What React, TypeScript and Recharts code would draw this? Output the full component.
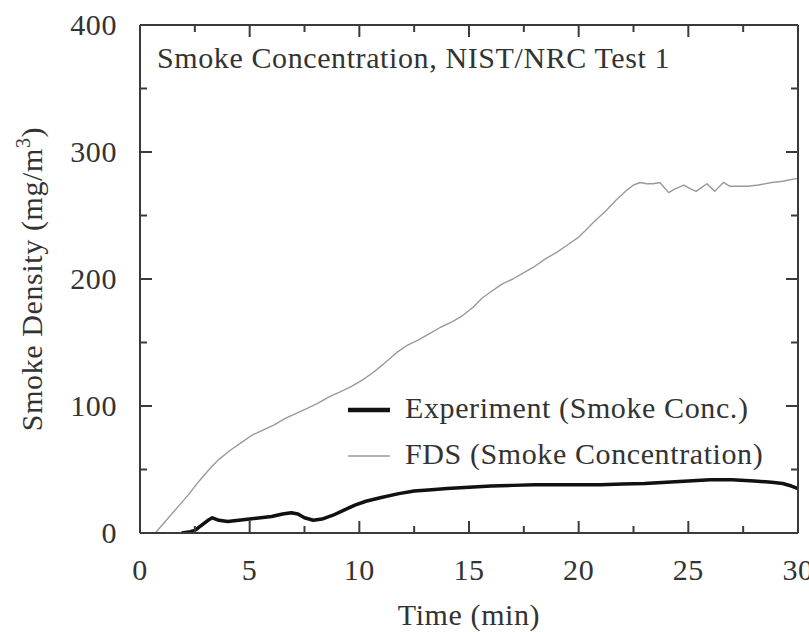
import React from 'react';
import { LineChart, Line, XAxis, YAxis, Legend, Customized } from 'recharts';

// ---- data ----
const fdsTime = [0, 0.7, 1.2, 1.7, 2.2, 2.7, 3.2, 3.6, 4.1, 4.6, 5.1, 5.6, 6.1, 6.6, 7.1, 7.6, 8.1, 8.6, 9.1, 9.6, 10.1, 10.6, 11.1, 11.7, 12.2, 12.7, 13.2, 13.7, 14.2, 14.7, 15.2, 15.6, 16, 16.5, 17, 17.5, 18, 18.5, 19, 19.5, 20, 20.3, 20.7, 21.2, 21.7, 22.2, 22.5, 22.8, 23.1, 23.4, 23.7, 23.9, 24.1, 24.4, 24.8, 25.1, 25.35, 25.6, 25.85, 26.2, 26.6, 26.9, 27.2, 27.7, 28.2, 28.8, 29.3, 29.9, 30];
const fdsValue = [0, 0, 10, 20, 30, 41, 51, 58, 65, 71, 77, 81, 85, 90, 94, 98, 102, 107, 111, 115, 120, 126, 133, 142, 148, 152, 157, 162, 166, 171, 178, 185, 190, 196, 200, 205, 210, 216, 221, 227, 233, 238, 245, 253, 262, 270, 274, 276, 275, 275, 276, 272, 268, 271, 274, 271, 269, 272, 275, 269, 276, 273, 273, 273, 274, 276, 277, 279, 279];

const expTime = [1.9, 2.3, 2.5, 2.8, 3.1, 3.3, 3.6, 4.0, 4.5, 5, 5.5, 6, 6.5, 6.9, 7.2, 7.5, 7.9, 8.3, 8.8, 9.3, 9.8, 10.3, 11, 11.8, 12.5, 13.3, 14, 15, 16, 17, 18, 19, 20, 21, 22, 23, 24, 25, 26, 27, 28, 28.8, 29.3, 29.7, 30];
const expValue = [0, 1, 2, 6, 10, 12, 10, 9, 10, 11, 12, 13, 15, 16, 15, 12, 10, 11, 14, 18, 22, 25, 28, 31, 33, 34, 35, 36, 37, 37.5, 38, 38, 38, 38, 38.5, 39, 40, 41, 42, 42, 41, 40, 39, 37, 35];

const xTicks = [0, 2.5, 5, 7.5, 10, 12.5, 15, 17.5, 20, 22.5, 25, 27.5, 30];
const yTicks = [0, 50, 100, 150, 200, 250, 300, 350, 400];
const xLabelEvery = 5;
const yLabelEvery = 100;

const titleText = 'Smoke Concentration, NIST/NRC Test 1';
const xAxisTitle = 'Time (min)';
const yAxisTitle = 'Smoke Density (mg/m';

const seriesNames = ['Experiment (Smoke Conc.)', 'FDS (Smoke Concentration)'];
const seriesColors = ['#111111', '#9a9a9a'];
const seriesWidths = [3.5, 1.4];

const fdsData = fdsTime.map((t, i) => ({ t, v: fdsValue[i] }));
const expData = expTime.map((t, i) => ({ t, v: expValue[i] }));

// ---- styles ----
const FONT = '"Liberation Serif", "Times New Roman", serif';
const TEXT_COLOR = '#333333';
const AXIS_COLOR = '#3a3a3a';
const FS = 30;
const LS = 0.6;
const MAJOR = 12;
const MINOR = 7;

const BottomTick = (props: any) => {
  const { x, y, payload } = props;
  const v = payload.value;
  const major = v % xLabelEvery === 0;
  return (
    <g>
      <line x1={x} x2={x} y1={y} y2={y - (major ? MAJOR : MINOR)} stroke={AXIS_COLOR} strokeWidth={2} />
      {major && (
        <text x={x} y={y + 47} textAnchor="middle" fontFamily={FONT} fontSize={FS} fill={TEXT_COLOR} letterSpacing={LS}>
          {v}
        </text>
      )}
    </g>
  );
};

const TopTick = (props: any) => {
  const { x, y, payload } = props;
  const major = payload.value % xLabelEvery === 0;
  return <line x1={x} x2={x} y1={y} y2={y + (major ? MAJOR : MINOR)} stroke={AXIS_COLOR} strokeWidth={2} />;
};

const LeftTick = (props: any) => {
  const { x, y, payload } = props;
  const v = payload.value;
  const major = v % yLabelEvery === 0;
  return (
    <g>
      <line x1={x} x2={x + (major ? MAJOR : MINOR)} y1={y} y2={y} stroke={AXIS_COLOR} strokeWidth={2} />
      {major && (
        <text x={x - 23} y={y + 10} textAnchor="end" fontFamily={FONT} fontSize={FS} fill={TEXT_COLOR} letterSpacing={LS}>
          {v}
        </text>
      )}
    </g>
  );
};

const RightTick = (props: any) => {
  const { x, y, payload } = props;
  const major = payload.value % yLabelEvery === 0;
  return <line x1={x} x2={x - (major ? MAJOR : MINOR)} y1={y} y2={y} stroke={AXIS_COLOR} strokeWidth={2} />;
};

const Texts = (props: any) => {
  const off = props.offset || {};
  const left = off.left ?? 140;
  const top = off.top ?? 25;
  const w = off.width ?? 658;
  const h = off.height ?? 508;
  return (
    <g fontFamily={FONT} fill={TEXT_COLOR} fontSize={FS} letterSpacing={LS}>
      <text x={left + 17} y={top + 43}>{titleText}</text>
      <text x={left + w / 2} y={top + h + 92} textAnchor="middle">{xAxisTitle}</text>
      <text transform={`translate(42, ${top + h / 2}) rotate(-90)`} textAnchor="middle">
        {yAxisTitle}
        <tspan fontSize={20} dy={-12}>3</tspan>
        <tspan dy={12}>)</tspan>
      </text>
    </g>
  );
};

const LegendContent = (props: any) => {
  const payload = props.payload || [];
  return (
    <div style={{ fontFamily: FONT, fontSize: FS, letterSpacing: LS, color: TEXT_COLOR }}>
      {payload.map((p: any) => {
        const idx = seriesNames.indexOf(p.value);
        return (
          <div key={p.value} style={{ display: 'flex', alignItems: 'center', height: 46, lineHeight: '46px', whiteSpace: 'nowrap' }}>
            <svg width={42} height={46} style={{ marginRight: 15, flex: 'none' }}>
              <line x1={0} x2={42} y1={25} y2={25} stroke={seriesColors[idx]} strokeWidth={seriesWidths[idx] + (idx === 0 ? 1 : 0)} />
            </svg>
            <span>{p.value}</span>
          </div>
        );
      })}
    </div>
  );
};

export default function App() {
  return (
    <div style={{ position: 'absolute', left: 0, top: 0, width: 809, height: 632, background: '#fff' }}>
      <LineChart width={809} height={632} margin={{ top: 24, right: 10, bottom: 98, left: 139 }}>
        <XAxis dataKey="t" type="number" domain={[0, 30]} ticks={xTicks} interval={0} allowDataOverflow
          height={1} tickSize={0} tickMargin={0} tickLine={false} tick={<BottomTick />}
          axisLine={{ stroke: AXIS_COLOR, strokeWidth: 2 }} />
        <XAxis xAxisId="top" orientation="top" dataKey="t" type="number" domain={[0, 30]} ticks={xTicks} interval={0} allowDataOverflow
          height={1} tickSize={0} tickMargin={0} tickLine={false} tick={<TopTick />}
          axisLine={{ stroke: AXIS_COLOR, strokeWidth: 2 }} />
        <YAxis type="number" domain={[0, 400]} ticks={yTicks} interval={0} allowDataOverflow
          width={1} tickSize={0} tickMargin={0} tickLine={false} tick={<LeftTick />}
          axisLine={{ stroke: AXIS_COLOR, strokeWidth: 2 }} />
        <YAxis yAxisId="right" orientation="right" type="number" domain={[0, 400]} ticks={yTicks} interval={0} allowDataOverflow
          width={1} tickSize={0} tickMargin={0} tickLine={false} tick={<RightTick />}
          axisLine={{ stroke: AXIS_COLOR, strokeWidth: 2 }} />
        <Line data={expData} dataKey="v" name={seriesNames[0]} type="linear" stroke={seriesColors[0]}
          strokeWidth={seriesWidths[0]} dot={false} isAnimationActive={false} strokeLinejoin="round" />
        <Line data={fdsData} dataKey="v" name={seriesNames[1]} type="linear" stroke={seriesColors[1]}
          strokeWidth={seriesWidths[1]} dot={false} isAnimationActive={false} strokeLinejoin="round" />
        <Legend layout="vertical" align="center" verticalAlign="middle" content={<LegendContent />}
          wrapperStyle={{ left: 348, top: 385, width: 'auto', height: 'auto' }} />
        <Customized component={<Texts />} />
      </LineChart>
    </div>
  );
}
